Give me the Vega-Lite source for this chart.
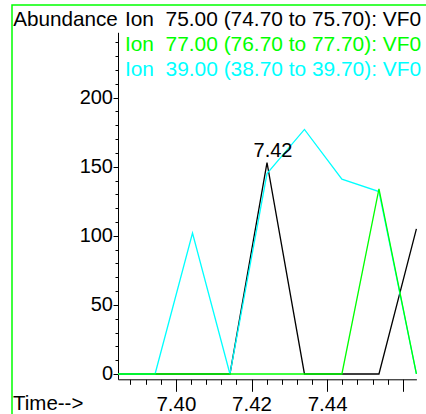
{
  "$schema": "https://vega.github.io/schema/vega-lite/v6.json",
  "width": 415,
  "height": 410,
  "autosize": {"type": "none"},
  "padding": {"left": 12, "top": 5, "right": -1, "bottom": -1},
  "background": "white",
  "config": {
    "view": {"stroke": "#00ff00", "strokeWidth": 1.5},
    "font": "Liberation Sans",
    "axis": {"domainColor": "black", "tickColor": "black", "labelColor": "black", "titleColor": "black", "grid": false, "labelFont": "Liberation Sans", "titleFont": "Liberation Sans", "titleFontWeight": "normal", "domainWidth": 1, "tickWidth": 1}
  },
  "datasets": {
    "ions": [
      {"time": 7.3847, "abundance": 0, "ion": "Ion\u00a0\u00a075.00 (74.70 to 75.70): VF0"},
      {"time": 7.3945, "abundance": 0, "ion": "Ion\u00a0\u00a075.00 (74.70 to 75.70): VF0"},
      {"time": 7.4044, "abundance": 0, "ion": "Ion\u00a0\u00a075.00 (74.70 to 75.70): VF0"},
      {"time": 7.4143, "abundance": 0, "ion": "Ion\u00a0\u00a075.00 (74.70 to 75.70): VF0"},
      {"time": 7.4241, "abundance": 153, "ion": "Ion\u00a0\u00a075.00 (74.70 to 75.70): VF0"},
      {"time": 7.4340, "abundance": 0, "ion": "Ion\u00a0\u00a075.00 (74.70 to 75.70): VF0"},
      {"time": 7.4439, "abundance": 0, "ion": "Ion\u00a0\u00a075.00 (74.70 to 75.70): VF0"},
      {"time": 7.4537, "abundance": 0, "ion": "Ion\u00a0\u00a075.00 (74.70 to 75.70): VF0"},
      {"time": 7.4636, "abundance": 105, "ion": "Ion\u00a0\u00a075.00 (74.70 to 75.70): VF0"},
      {"time": 7.3847, "abundance": 0, "ion": "Ion\u00a0\u00a039.00 (38.70 to 39.70): VF0"},
      {"time": 7.3945, "abundance": 0, "ion": "Ion\u00a0\u00a039.00 (38.70 to 39.70): VF0"},
      {"time": 7.4044, "abundance": 102, "ion": "Ion\u00a0\u00a039.00 (38.70 to 39.70): VF0"},
      {"time": 7.4143, "abundance": 0, "ion": "Ion\u00a0\u00a039.00 (38.70 to 39.70): VF0"},
      {"time": 7.4241, "abundance": 145, "ion": "Ion\u00a0\u00a039.00 (38.70 to 39.70): VF0"},
      {"time": 7.4340, "abundance": 177, "ion": "Ion\u00a0\u00a039.00 (38.70 to 39.70): VF0"},
      {"time": 7.4439, "abundance": 141, "ion": "Ion\u00a0\u00a039.00 (38.70 to 39.70): VF0"},
      {"time": 7.4537, "abundance": 132, "ion": "Ion\u00a0\u00a039.00 (38.70 to 39.70): VF0"},
      {"time": 7.4636, "abundance": 0, "ion": "Ion\u00a0\u00a039.00 (38.70 to 39.70): VF0"},
      {"time": 7.3847, "abundance": 0, "ion": "Ion\u00a0\u00a077.00 (76.70 to 77.70): VF0"},
      {"time": 7.3945, "abundance": 0, "ion": "Ion\u00a0\u00a077.00 (76.70 to 77.70): VF0"},
      {"time": 7.4044, "abundance": 0, "ion": "Ion\u00a0\u00a077.00 (76.70 to 77.70): VF0"},
      {"time": 7.4143, "abundance": 0, "ion": "Ion\u00a0\u00a077.00 (76.70 to 77.70): VF0"},
      {"time": 7.4241, "abundance": 0, "ion": "Ion\u00a0\u00a077.00 (76.70 to 77.70): VF0"},
      {"time": 7.4340, "abundance": 0, "ion": "Ion\u00a0\u00a077.00 (76.70 to 77.70): VF0"},
      {"time": 7.4439, "abundance": 0, "ion": "Ion\u00a0\u00a077.00 (76.70 to 77.70): VF0"},
      {"time": 7.4537, "abundance": 134, "ion": "Ion\u00a0\u00a077.00 (76.70 to 77.70): VF0"},
      {"time": 7.4636, "abundance": 0, "ion": "Ion\u00a0\u00a077.00 (76.70 to 77.70): VF0"}
    ],
    "peak": [
      {"time": 7.4241, "abundance": 153, "label": "7.42"}
    ]
  },
  "resolve": {"axis": {"x": "independent", "y": "independent"}},
  "layer": [
    {
      "data": {"name": "ions"},
      "mark": {"type": "line", "strokeWidth": 1.3},
      "encoding": {
        "x": {
          "field": "time", "type": "quantitative",
          "scale": {"domain": [7.3847, 7.4636], "range": [106, 404.4], "nice": false, "zero": false},
          "axis": {"orient": "bottom", "offset": -35.7, "values": [7.40, 7.42, 7.44, 7.46], "format": ".2f", "labelExpr": "datum.value > 7.45 ? '' : datum.label", "tickSize": 12, "labelPadding": 19.4, "labelBaseline": "alphabetic", "labelFontSize": 20.5, "labelFlush": false, "labelOverlap": false, "title": "Time-->", "titleX": 0.5, "titleY": 30.4, "titleAlign": "left", "titleBaseline": "alphabetic", "titleFontSize": 20.5}
        },
        "y": {
          "field": "abundance", "type": "quantitative",
          "scale": {"domain": [-3.85, 247.3], "range": [374.3, 27.3], "nice": false, "zero": false},
          "axis": {"orient": "left", "offset": -106, "values": [0, 50, 100, 150, 200], "tickSize": 5, "labelPadding": 0.5, "labelFontSize": 20, "labelFlush": false, "labelOverlap": false, "title": "Abundance", "titleAngle": 0, "titleX": -105.3, "titleY": 20, "titleAlign": "left", "titleBaseline": "alphabetic", "titleFontSize": 20.7}
        },
        "color": {
          "field": "ion", "type": "nominal",
          "scale": {"domain": ["Ion\u00a0\u00a075.00 (74.70 to 75.70): VF0", "Ion\u00a0\u00a077.00 (76.70 to 77.70): VF0", "Ion\u00a0\u00a039.00 (38.70 to 39.70): VF0"], "range": ["#000000", "#00ff00", "#00ffff"]},
          "legend": {"orient": "none", "legendX": 92, "legendY": 5, "title": null, "direction": "vertical", "symbolSize": 0, "symbolOpacity": 0, "symbolStrokeWidth": 0, "labelOffset": 0, "labelFontSize": 20.9, "labelFont": "Liberation Sans", "labelLimit": 1000, "rowPadding": 3, "padding": 0, "offset": 0, "encode": {"labels": {"update": {"fill": {"scale": "color", "field": "value"}}}}}
        }
      }
    },
    {
      "data": {"name": "peak"},
      "mark": {"type": "text", "fontSize": 20, "font": "Liberation Sans", "align": "center", "baseline": "alphabetic", "dx": 6, "dy": -5.5, "color": "black"},
      "encoding": {
        "x": {
          "field": "time", "type": "quantitative",
          "scale": {"domain": [7.3847, 7.4636], "range": [106, 404.4], "nice": false, "zero": false},
          "axis": {"orient": "bottom", "offset": -35.7, "values": [7.388, 7.392, 7.396, 7.400, 7.404, 7.408, 7.412, 7.416, 7.420, 7.424, 7.428, 7.432, 7.436, 7.440, 7.444, 7.448, 7.452, 7.456, 7.460], "labels": false, "tickSize": 5, "domain": false, "title": null}
        },
        "y": {
          "field": "abundance", "type": "quantitative",
          "scale": {"domain": [-3.85, 247.3], "range": [374.3, 27.3], "nice": false, "zero": false},
          "axis": {"orient": "left", "offset": -106, "values": [0, 10, 20, 30, 40, 50, 60, 70, 80, 90, 100, 110, 120, 130, 140, 150, 160, 170, 180, 190, 200, 210, 220, 230, 240], "labels": false, "tickSize": 3, "domain": false, "title": null}
        },
        "text": {"field": "label"}
      }
    }
  ]
}
